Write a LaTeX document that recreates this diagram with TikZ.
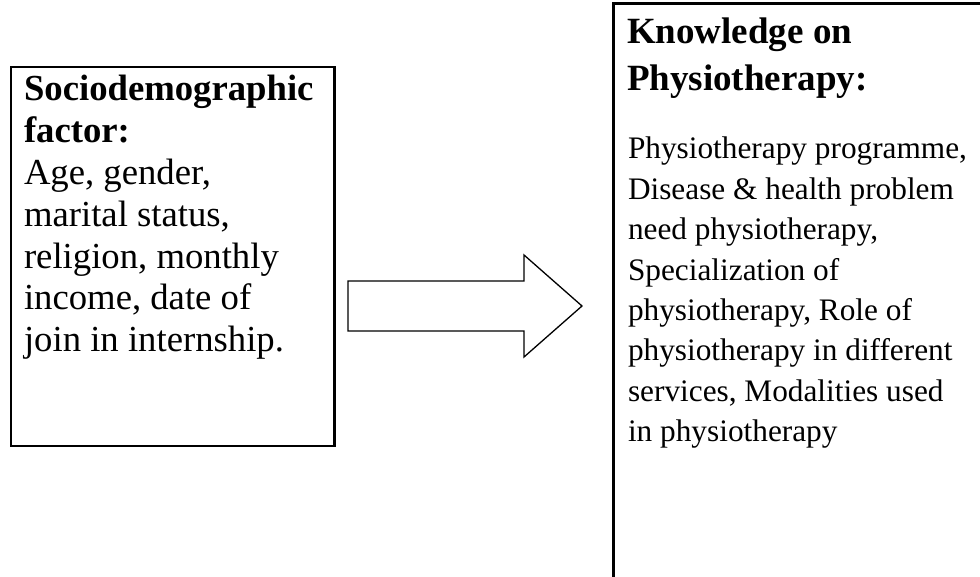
\documentclass[tikz,border=0pt]{standalone}
\usepackage{fontspec}
\setmainfont{Liberation Serif}
\newcommand{\toplines}[3]{\parbox[t]{#1}{\raggedright\fontsize{#2}{#3}\selectfont}}
\begin{document}
\begin{tikzpicture}[x=1pt,y=-1pt,
  boxframe/.style={draw=black, line width=2.5pt, inner sep=0pt, anchor=north west},
  boxtext/.style={inner sep=0pt, outer sep=0pt, anchor=base west},
  blockarrow/.style={draw=black, line width=1.3pt, line join=miter, fill=white}]
\clip (0,0) rectangle (980,577);
\fill[white] (0,0) rectangle (980,577);
% left box
\node[boxframe, minimum width=323.5pt, minimum height=378.5pt] (lbox) at (9.5,66) {};
\node[boxtext] (ltext) at (24,101) {\parbox[t]{305pt}{\raggedright\fontsize{36.7pt}{41.8pt}\selectfont
  \textbf{Sociodemographic}\\
  \textbf{factor:}\\
  Age, gender,\\
  marital status,\\
  religion, monthly\\
  income, date of\\
  join in internship.}};
% right box (runs past the picture's edges)
\node[boxframe, minimum width=420pt, minimum height=640pt] (rbox) at (612,2.2) {};
\node[boxtext] (rhead) at (627,44) {\parbox[t]{350pt}{\raggedright\fontsize{37pt}{47pt}\selectfont\bfseries
  Knowledge on\\
  Physiotherapy:}};
\node[boxtext] (rbody) at (628,159) {\parbox[t]{350pt}{\raggedright\fontsize{31.3pt}{40.4pt}\selectfont
  Physiotherapy programme,\\
  Disease \& health problem\\
  need physiotherapy,\\
  Specialization of\\
  physiotherapy, Role of\\
  physiotherapy in different\\
  services, Modalities used\\
  in physiotherapy}};
% block arrow
\coordinate (arrtail) at (348,306);
\coordinate (arrtip) at (582,306);
\draw[blockarrow] (arrtail) ++(0,-25) -- (524,281) -- (524,255) -- (arrtip) -- (524,357) -- (524,331) -- ++(-176,0) -- cycle;
\end{tikzpicture}
\end{document}
